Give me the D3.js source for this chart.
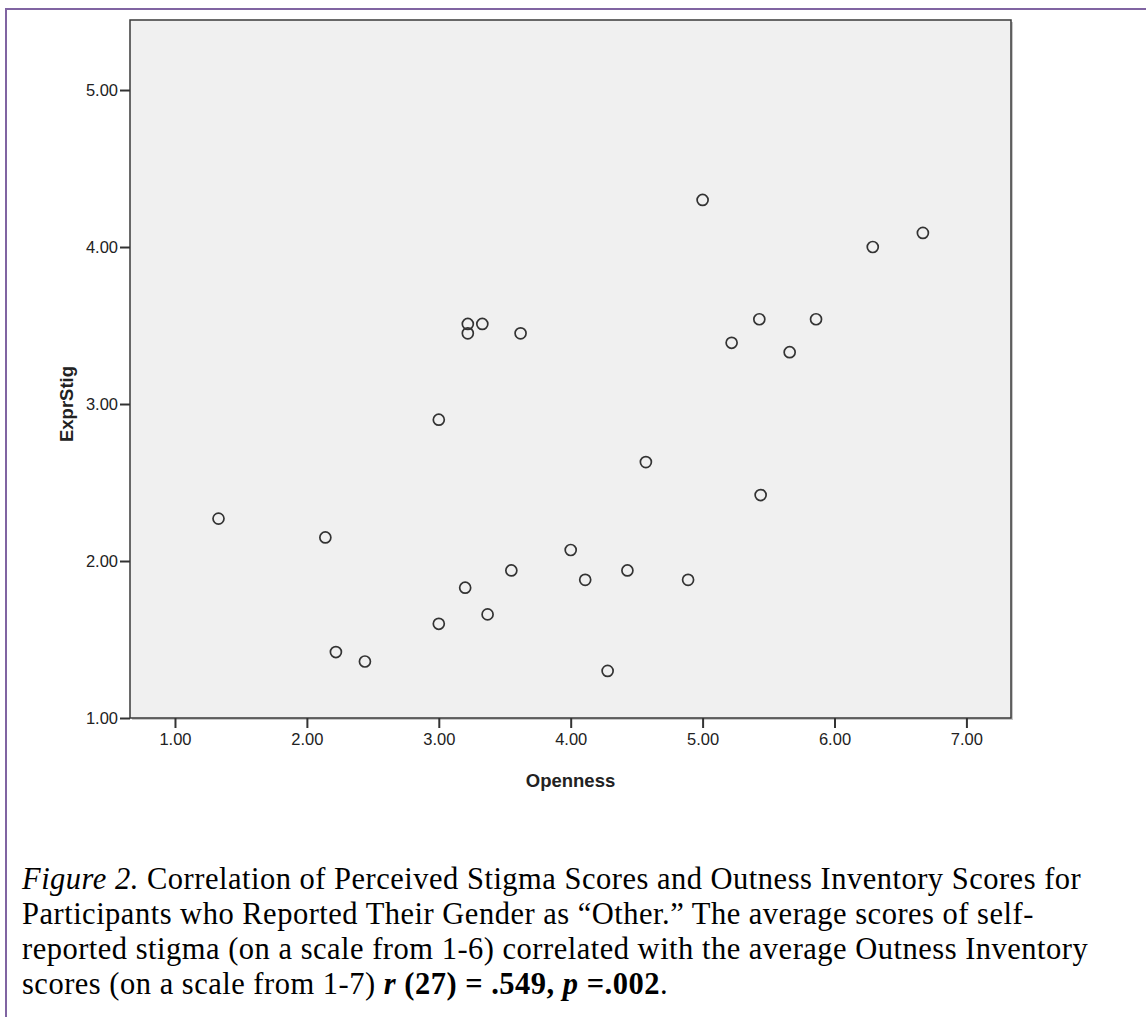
<!DOCTYPE html>
<html>
<head>
<meta charset="utf-8">
<script src="https://cdn.jsdelivr.net/npm/d3@7"></script>
<style>
  body { margin: 0; background: #fff; }
  .tick text { font-family: "Liberation Sans", Arial, sans-serif; font-size: 16.5px; fill: #222; }
  .caption { font-family: "Liberation Serif", "Times New Roman", serif; font-size: 30.5px; letter-spacing: 0.5px; fill: #000; }
</style>
</head>
<body>
<div class="chart"></div>
<script>
// Openness (x) and ExprStig (y)
const openness = [1.33, 2.14, 2.22, 2.44, 3.00, 3.00, 3.22, 3.22, 3.33, 3.20, 3.37, 3.55, 3.62, 4.00,
                  4.11, 4.28, 4.43, 4.57, 4.89, 5.00, 5.22, 5.43, 5.44, 5.66, 5.86, 6.29, 6.67];
const exprStig = [2.27, 2.15, 1.42, 1.36, 2.90, 1.60, 3.51, 3.45, 3.51, 1.83, 1.66, 1.94, 3.45, 2.07,
                  1.88, 1.30, 1.94, 2.63, 1.88, 4.30, 3.39, 3.54, 2.42, 3.33, 3.54, 4.00, 4.09];
const xTicks = [1, 2, 3, 4, 5, 6, 7];
const yTicks = [1, 2, 3, 4, 5];

const captionLines = [
    [{t: "Figure 2.", s: "italic"}, {t: " Correlation of Perceived Stigma Scores and Outness Inventory Scores for"}],
    [{t: "Participants who Reported Their Gender as \u201cOther.\u201d The average scores of self-"}],
    [{t: "reported stigma (on a scale from 1-6) correlated with the average Outness Inventory"}],
    [{t: "scores (on a scale from 1-7) "}, {t: "r", s: "italic", w: "bold"}, {t: " (27) = .549, ", w: "bold"},
     {t: "p", s: "italic", w: "bold"}, {t: " =.002", w: "bold"}, {t: "."}]
];

const data = openness.map((d, i) => ({x: d, y: exprStig[i]}));

const W = 1146, H = 1017;
const plot = {left: 130, top: 20, right: 1011, bottom: 718};

const svg = d3.select(".chart").append("svg")
    .attr("width", W)
    .attr("height", H);

// purple page frame
svg.append("line").attr("x1", 5).attr("x2", W).attr("y1", 9).attr("y2", 9)
    .attr("stroke", "#8064a2").attr("stroke-width", 2);
svg.append("line").attr("x1", 6).attr("x2", 6).attr("y1", 8).attr("y2", H)
    .attr("stroke", "#8064a2").attr("stroke-width", 2);

const xScale = d3.scaleLinear()
    .domain([0.659, 7.338])
    .range([plot.left, plot.right]);

const yScale = d3.scaleLinear()
    .domain([1, 5.446])
    .range([plot.bottom, plot.top]);

// plot background with a faint shadow
svg.append("rect")
    .attr("x", plot.left + 2).attr("y", plot.top + 2)
    .attr("width", plot.right - plot.left).attr("height", plot.bottom - plot.top)
    .attr("fill", "#c8c8c8");
svg.append("rect")
    .attr("x", plot.left).attr("y", plot.top)
    .attr("width", plot.right - plot.left).attr("height", plot.bottom - plot.top)
    .attr("fill", "#f0f0f0")
    .attr("stroke", "#3a3a3a")
    .attr("stroke-width", 1.5);

const xAxis = d3.axisBottom(xScale)
    .tickValues(xTicks)
    .tickFormat(d3.format(".2f"))
    .tickSize(10)
    .tickPadding(5);

const yAxis = d3.axisLeft(yScale)
    .tickValues(yTicks)
    .tickFormat(d3.format(".2f"))
    .tickSize(10)
    .tickPadding(2);

svg.append("g")
    .attr("class", "axis x-axis")
    .attr("transform", `translate(0, ${plot.bottom})`)
    .call(xAxis)
    .call(g => g.select(".domain").remove())
    .call(g => g.selectAll(".tick line").attr("stroke", "#333").attr("stroke-width", 2));

svg.append("g")
    .attr("class", "axis y-axis")
    .attr("transform", `translate(${plot.left}, 0)`)
    .call(yAxis)
    .call(g => g.select(".domain").remove())
    .call(g => g.selectAll(".tick line").attr("stroke", "#333").attr("stroke-width", 2));

svg.append("text")
    .attr("text-anchor", "middle")
    .attr("x", (plot.left + plot.right) / 2)
    .attr("y", 787)
    .attr("font-family", "Liberation Sans, Arial, sans-serif")
    .attr("font-weight", "bold")
    .attr("font-size", 18.5)
    .attr("fill", "#222")
    .text("Openness");

svg.append("text")
    .attr("text-anchor", "middle")
    .attr("transform", "translate(73, 404) rotate(-90)")
    .attr("font-family", "Liberation Sans, Arial, sans-serif")
    .attr("font-weight", "bold")
    .attr("font-size", 18.5)
    .attr("fill", "#222")
    .text("ExprStig");

svg.append("g")
    .attr("fill", "none")
    .attr("stroke", "#333")
    .attr("stroke-width", 1.7)
    .selectAll("circle")
    .data(data)
    .join("circle")
    .attr("cx", d => xScale(d.x))
    .attr("cy", d => yScale(d.y))
    .attr("r", 5.5);

// caption
const cap = svg.append("g").attr("class", "caption");
captionLines.forEach((line, i) => {
    const t = cap.append("text")
        .attr("x", 22)
        .attr("y", 889 + i * 35);
    line.forEach(p => {
        t.append("tspan")
            .attr("font-style", p.s || "normal")
            .attr("font-weight", p.w || "normal")
            .text(p.t);
    });
});
</script>
</body>
</html>
